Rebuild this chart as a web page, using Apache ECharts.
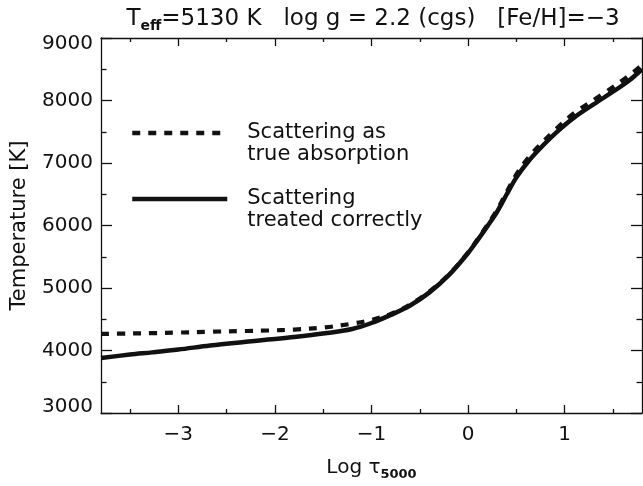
<!DOCTYPE html>
<html><head><meta charset="utf-8">
<script src="https://cdn.jsdelivr.net/npm/echarts@6/dist/echarts.min.js"></script>
<style>html,body{margin:0;padding:0;background:#fff}#c{width:643px;height:486px}</style>
</head><body><div id="c"></div>
<script>
const logTau   = [-3.8, -3.5, -3.27, -3.0, -2.67, -2.3, -2.07, -1.8, -1.48, -1.2, -1.0, -0.8, -0.6, -0.4, -0.2, 0.0, 0.1, 0.2, 0.3, 0.4, 0.5, 0.6, 0.7, 0.9, 1.1, 1.4, 1.65, 1.8];
const tCorrect = [3880, 3935, 3970, 4015, 4080, 4140, 4175, 4215, 4275, 4345, 4440, 4570, 4720, 4930, 5205, 5560, 5770, 5990, 6220, 6500, 6770, 6980, 7160, 7470, 7730, 8040, 8300, 8500];
const tAbsorb  = [4265, 4272, 4278, 4287, 4300, 4312, 4320, 4335, 4370, 4430, 4490, 4585, 4735, 4945, 5215, 5570, 5785, 6010, 6250, 6540, 6820, 7040, 7220, 7530, 7800, 8110, 8380, 8570];
const xMajor = [-3, -2, -1, 0, 1];
const xMinor = [-3.5, -2.5, -1.5, -0.5, 0.5, 1.5];
const seriesNames = ['Scattering as\ntrue absorption', 'Scattering\ntreated correctly'];

const FONT = 'DejaVu Sans';
const INK = '#111';
const minus = v => (v < 0 ? '\u2212' + Math.abs(v) : String(v));

function xAxisDef(pos, vals, len, labels, line) {
  return {
    type: 'value', min: -3.8, max: 1.8, gridIndex: 0, position: pos,
    splitLine: { show: false },
    axisLine: { show: line, onZero: false, lineStyle: { color: INK, width: 1.3 } },
    axisTick: { show: true, inside: true, length: len, customValues: vals, lineStyle: { color: INK, width: 1.3 } },
    axisLabel: labels ? {
      show: true, customValues: xMajor, formatter: minus, margin: 12,
      fontFamily: FONT, fontSize: 20, color: INK
    } : { show: false }
  };
}
const xAxes = [
  Object.assign(xAxisDef('bottom', xMajor, 8, true, true), {
    name: '{n|Log τ}{s|5000}', nameLocation: 'middle', nameGap: 42,
    nameTextStyle: {
      fontFamily: FONT, color: INK,
      rich: {
        n: { fontFamily: FONT, fontSize: 20, color: INK, lineHeight: 26 },
        s: { fontFamily: FONT, fontSize: 13, fontWeight: 'bold', color: INK, verticalAlign: 'bottom' }
      }
    }
  }),
  xAxisDef('bottom', xMinor, 4, false, false),
  xAxisDef('top', xMajor, 8, false, true),
  xAxisDef('top', xMinor, 4, false, false)
];
function yLabel(v) {
  if (v === 9000) return '{dn|' + v + '}';
  if (v === 3000) return '{up|' + v + '}';
  return '{a|' + v + '}';
}
const yLabelStyle = { fontFamily: FONT, fontSize: 20, color: INK };
function yAxisDef(pos, labels) {
  return {
    type: 'value', min: 3000, max: 9000, interval: 1000, position: pos, gridIndex: 0,
    splitLine: { show: false },
    axisLine: { show: true, onZero: false, lineStyle: { color: INK, width: 1.3 } },
    axisTick: { show: true, inside: true, length: 11, lineStyle: { color: INK, width: 1.3 } },
    minorTick: { show: true, splitNumber: 2, length: 5.5, lineStyle: { color: INK, width: 1.3 } },
    axisLabel: labels ? {
      show: true, margin: 8, color: INK,
      formatter: yLabel,
      rich: {
        a: Object.assign({}, yLabelStyle),
        dn: Object.assign({ padding: [12, 0, 0, 0] }, yLabelStyle),
        up: Object.assign({ padding: [0, 0, 12, 0] }, yLabelStyle)
      }
    } : { show: false }
  };
}
const yAxes = [
  Object.assign(yAxisDef('left', true), {
    name: 'Temperature [K]', nameLocation: 'middle', nameGap: 71,
    nameTextStyle: { fontFamily: FONT, fontSize: 21, color: INK }
  }),
  yAxisDef('right', false)
];

const chart = echarts.init(document.getElementById('c'), null, { renderer: 'canvas' });
chart.setOption({
  animation: false,
  backgroundColor: '#fff',
  title: {
    text: '{n|T}{s|eff}{n|=5130 K   log g = 2.2 (cgs)   [Fe/H]=\u22123}',
    left: 368, top: 0, textAlign: 'center',
    textStyle: {
      fontWeight: 'normal',
      rich: {
        n: { fontFamily: FONT, fontSize: 23, fontWeight: 'normal', color: INK, lineHeight: 28 },
        s: { fontFamily: FONT, fontSize: 14, fontWeight: 'bold', color: INK, verticalAlign: 'bottom' }
      }
    }
  },
  grid: { left: 101, right: 1, top: 38, bottom: 63, containLabel: false },
  legend: {
    show: true, orient: 'vertical', left: 130, top: 100, padding: 0,
    itemWidth: 95, itemHeight: 10, itemGap: 0, selectedMode: false,
    data: seriesNames,
    formatter: name => '\n' + name,
    itemStyle: { opacity: 0 },
    lineStyle: { width: 4.5 },
    textStyle: { fontFamily: FONT, fontSize: 21, lineHeight: 22, color: INK, padding: [0, 0, 0, 15] }
  },
  xAxis: xAxes,
  yAxis: yAxes,
  series: [
    {
      name: seriesNames[0], type: 'line', xAxisIndex: 0, yAxisIndex: 0,
      data: logTau.map((x, i) => [x, tAbsorb[i]]),
      smooth: 0.35, showSymbol: false, symbol: 'none',
      lineStyle: { color: INK, width: 4.2, type: [8, 8], cap: 'butt' },
      itemStyle: { color: INK }
    },
    {
      name: seriesNames[1], type: 'line', xAxisIndex: 0, yAxisIndex: 0,
      data: logTau.map((x, i) => [x, tCorrect[i]]),
      smooth: 0.35, showSymbol: false, symbol: 'none',
      lineStyle: { color: INK, width: 4.5, type: 'solid' },
      itemStyle: { color: INK }
    }
  ]
});
</script></body></html>
